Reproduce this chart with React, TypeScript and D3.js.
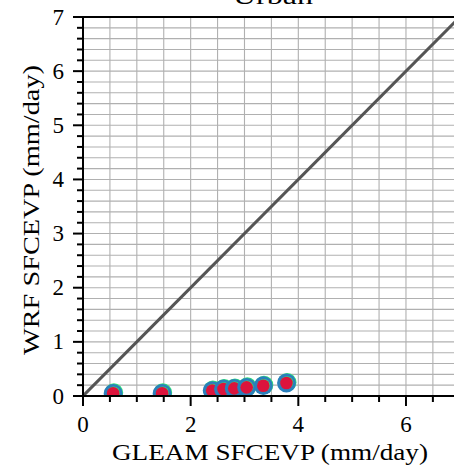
import React, { useEffect, useRef } from "react";
import * as d3 from "d3";

const xs = [0.56, 1.47, 2.4, 2.61, 2.81, 3.04, 3.35, 3.78];
const ys = [0.05, 0.05, 0.1, 0.13, 0.14, 0.16, 0.19, 0.24];
const majorTicks = [0, 1, 2, 3, 4, 5, 6, 7];
const xTickLabels = [0, 2, 4, 6];
const title = "Urban";
const xLabel = "GLEAM SFCEVP (mm/day)";
const yLabel = "WRF SFCEVP (mm/day)";

const W = 454, H = 471;
const L = 83, T = 17, R = 459.8, B = 396;
const FONT = "'Liberation Serif', 'DejaVu Serif', serif";

export default function App() {
  const ref = useRef<SVGSVGElement>(null);
  useEffect(() => {
    const svg = d3.select(ref.current);
    svg.selectAll("*").remove();
    const x = d3.scaleLinear().domain([0, 7]).range([L, R]);
    const y = d3.scaleLinear().domain([0, 7]).range([B, T]);

    svg.append("defs").append("clipPath").attr("id", "clip")
      .append("rect").attr("x", L).attr("y", T).attr("width", R - L).attr("height", B - T);

    const grid = svg.append("g");
    const xMinor = d3.range(0, 7.001, 0.5);
    const yMinor = d3.range(0, 7.001, 0.2);
    grid.selectAll("line.vx").data(xMinor).join("line")
      .attr("x1", d => x(d)).attr("x2", d => x(d)).attr("y1", T).attr("y2", B)
      .attr("stroke", "#b0b0b0").attr("stroke-width", 1.1);
    grid.selectAll("line.hy").data(yMinor).join("line")
      .attr("class", "hy")
      .attr("y1", d => y(d)).attr("y2", d => y(d)).attr("x1", L).attr("x2", R)
      .attr("stroke", "#b0b0b0").attr("stroke-width", 1.1);

    const plot = svg.append("g").attr("clip-path", "url(#clip)");
    plot.append("line")
      .attr("x1", x(0)).attr("y1", y(0)).attr("x2", x(7)).attr("y2", y(7))
      .attr("stroke", "#555").attr("stroke-width", 3);

    xs.forEach((xv, i) => {
      const g = plot.append("g");
      g.append("circle").attr("cx", x(xv) + 0.7).attr("cy", y(ys[i]) - 0.7).attr("r", 9.3)
        .attr("fill", "#2ee07a");
      g.append("circle").attr("cx", x(xv)).attr("cy", y(ys[i])).attr("r", 9.4)
        .attr("fill", "#2a7fbc");
      g.append("circle").attr("cx", x(xv) + 0.5).attr("cy", y(ys[i]) - 0.5).attr("r", 6.3)
        .attr("fill", "#2ee07a");
      g.append("circle").attr("cx", x(xv)).attr("cy", y(ys[i])).attr("r", 6.3)
        .attr("fill", "#dc143c");
    });

    const ax = svg.append("g");
    ax.selectAll("line.xt").data(xMinor).join("line")
      .attr("x1", d => x(d)).attr("x2", d => x(d)).attr("y1", B)
      .attr("y2", d => B + (Math.abs(d % 2) < 1e-6 ? 10 : 6))
      .attr("stroke", "#000").attr("stroke-width", 2);
    ax.selectAll("line.yt").data(yMinor).join("line")
      .attr("y1", d => y(d)).attr("y2", d => y(d)).attr("x1", L)
      .attr("x2", d => L - (Math.abs(d - Math.round(d)) < 1e-6 ? 10 : 6))
      .attr("stroke", "#000").attr("stroke-width", 2);

    ax.append("rect").attr("x", L).attr("y", T).attr("width", R - L).attr("height", B - T)
      .attr("fill", "none").attr("stroke", "#000").attr("stroke-width", 2);

    ax.selectAll("text.xl").data(xTickLabels).join("text")
      .attr("x", d => x(d)).attr("y", 432).attr("text-anchor", "middle")
      .attr("font-family", FONT).attr("font-size", 23).text(d => d);
    ax.selectAll("text.yl").data(majorTicks).join("text")
      .attr("x", 64).attr("y", d => y(d) + 7.5).attr("text-anchor", "end")
      .attr("font-family", FONT).attr("font-size", 23).text(d => d);

    svg.append("text").attr("x", 270).attr("y", 460).attr("text-anchor", "middle")
      .attr("font-family", FONT).attr("font-size", 23)
      .attr("textLength", 316).attr("lengthAdjust", "spacingAndGlyphs").text(xLabel);
    svg.append("text").attr("transform", `translate(39,210) rotate(-90)`)
      .attr("text-anchor", "middle")
      .attr("font-family", FONT).attr("font-size", 23)
      .attr("textLength", 290).attr("lengthAdjust", "spacingAndGlyphs").text(yLabel);
    svg.append("text").attr("x", 273).attr("y", 4).attr("text-anchor", "middle")
      .attr("font-family", FONT).attr("font-size", 23)
      .attr("textLength", 80).attr("lengthAdjust", "spacingAndGlyphs").text(title);
  }, []);
  return (
    <svg ref={ref} width={W} height={H}
      style={{ position: "absolute", left: 0, top: 0, background: "#fff" }} />
  );
}
